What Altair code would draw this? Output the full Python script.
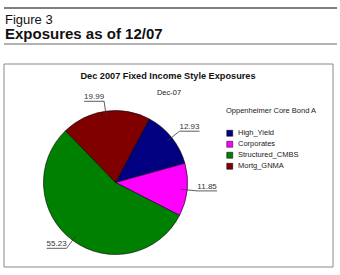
import math
import altair as alt
import pandas as pd

# ---- data ----
categories = ["High_Yield", "Corporates", "Structured_CMBS", "Mortg_GNMA"]
values = [12.93, 11.85, 55.23, 19.99]
colors = ["#000080", "#FF00FF", "#008000", "#800000"]

fig_label = "Figure 3"
fig_title = "Exposures as of 12/07"
chart_title = "Dec 2007 Fixed Income Style Exposures"
chart_subtitle = "Dec-07"
legend_title = "Oppenheimer Core Bond A"

# ---- layout constants ----
W, H = 340, 275
CX, CY, R = 115.5, 182.5, 72
A0 = math.radians(28)
R1, R2 = 66, 82
UL = 20
FONT = "Liberation Sans"

df = pd.DataFrame({"category": categories, "value": values, "idx": list(range(len(values)))})
one = pd.DataFrame({"a": [0]})

pie = alt.Chart(df).mark_arc(radius=R, stroke="black", strokeWidth=0.6).encode(
    theta=alt.Theta("value:Q", stack=True, scale=alt.Scale(range=[A0, A0 + 2 * math.pi])),
    color=alt.Color(
        "category:N",
        scale=alt.Scale(domain=categories, range=colors),
        legend=alt.Legend(
            orient="none", legendX=226, legendY=107, title=legend_title,
            titleFontSize=7.5, titleFontWeight="normal", titleColor="#222", titleFont=FONT,
            labelFontSize=7.5, labelColor="#222", labelFont=FONT,
            symbolType="square", symbolSize=36, symbolStrokeColor="black", symbolStrokeWidth=0.5,
            titlePadding=15, rowPadding=2, labelOffset=4.5, padding=0,
        ),
    ),
    order=alt.Order("idx:Q"),
    x=alt.value(CX), y=alt.value(CY),
)

base = alt.Chart(df).transform_window(
    cum="sum(value)", sort=[alt.SortField("idx")]
).transform_joinaggregate(total="sum(value)").transform_calculate(
    mid=f"{A0} + 2*PI*(datum.cum - datum.value/2)/datum.total"
).transform_calculate(
    x1=f"{CX} + {R1}*sin(datum.mid)", y1=f"{CY} - {R1}*cos(datum.mid)",
    x2=f"{CX} + {R2}*sin(datum.mid)", y2=f"{CY} - {R2}*cos(datum.mid)",
    side="sin(datum.mid) >= 0 ? 1 : -1",
).transform_calculate(
    x3=f"datum.x2 + datum.side*{UL}",
    xt=f"datum.x2 + datum.side*{UL/2}",
    yt="datum.y2 - 2",
    lbl="format(datum.value, '.2f')",
)

leader = base.mark_rule(color="#333", strokeWidth=0.8).encode(
    x=alt.X("x1:Q", scale=None), y=alt.Y("y1:Q", scale=None),
    x2="x2:Q", y2="y2:Q",
)
underline = base.mark_rule(color="#333", strokeWidth=0.8).encode(
    x=alt.X("x2:Q", scale=None), y=alt.Y("y2:Q", scale=None),
    x2="x3:Q",
)
labels = base.mark_text(fontSize=8, font=FONT, color="#333", baseline="alphabetic", align="center").encode(
    x=alt.X("xt:Q", scale=None), y=alt.Y("yt:Q", scale=None), text="lbl:N",
)

deco = alt.Chart(one)
top_line = deco.mark_rule(color="#555", strokeWidth=1.3).encode(x=alt.value(4), x2=alt.value(337), y=alt.value(8))
bot_line = deco.mark_rule(color="#999", strokeWidth=1.5).encode(x=alt.value(4), x2=alt.value(337), y=alt.value(44))
box = deco.mark_rect(fill="white", stroke="#888", strokeWidth=1).encode(
    x=alt.value(4), x2=alt.value(333), y=alt.value(64), y2=alt.value(267))
t_fig = deco.mark_text(text=fig_label, font=FONT, fontSize=13, align="left", baseline="alphabetic", color="#111").encode(
    x=alt.value(5), y=alt.value(23.5))
t_title = deco.mark_text(text=fig_title, font=FONT, fontSize=15, fontWeight="bold", align="left", baseline="alphabetic", color="#111").encode(
    x=alt.value(5), y=alt.value(39))
t_ctitle = deco.mark_text(text=chart_title, font=FONT, fontSize=9.2, fontWeight="bold", align="center", baseline="middle", color="#111").encode(
    x=alt.value(168), y=alt.value(76))
t_sub = deco.mark_text(text=chart_subtitle, font=FONT, fontSize=7.5, align="center", baseline="middle", color="#222").encode(
    x=alt.value(169), y=alt.value(93))

chart = alt.layer(
    box, top_line, bot_line, t_fig, t_title, t_ctitle, t_sub, pie, leader, underline, labels
).properties(
    width=W, height=H, padding=0, autosize="none", background="white"
).configure_view(stroke=None)

chart.save("out.html", embed_options={"renderer": "svg", "actions": False})
